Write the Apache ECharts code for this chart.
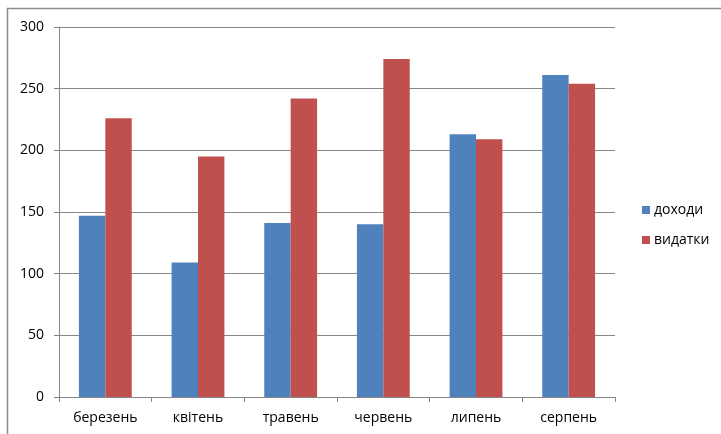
<!DOCTYPE html>
<html>
<head>
<meta charset="utf-8">
<script src="https://cdn.jsdelivr.net/npm/echarts@6/dist/echarts.min.js"></script>
<style>
  html, body { margin: 0; padding: 0; background: #fff; }
  #chart { width: 721px; height: 434px; }
</style>
</head>
<body>
<div id="chart"></div>
<script>
// Місяці та суми доходів і видатків
const months = ['березень', 'квітень', 'травень', 'червень', 'липень', 'серпень'];
const income = [147, 109, 141, 140, 213, 261];
const expenses = [226, 195, 242, 274, 209, 254];
const seriesNames = ['доходи', 'видатки'];
const yTicks = { min: 0, max: 300, interval: 50 };

const font = '"Open Sans", "Noto Sans", sans-serif';
const axisGray = '#868686';

const chart = echarts.init(document.getElementById('chart'), null, { renderer: 'canvas' });
chart.setOption({
  animation: false,
  backgroundColor: '#ffffff',
  textStyle: { fontFamily: font },
  graphic: [{
    type: 'rect',
    shape: { x: 7.5, y: 8.5, width: 800, height: 500 },
    style: { fill: 'none', stroke: '#8c8c8c', lineWidth: 1.5 },
    silent: true
  }],
  grid: { left: 59, right: 106, top: 27, bottom: 37 },
  legend: {
    orient: 'vertical',
    left: 642,
    top: 203,
    padding: 0,
    itemWidth: 8,
    itemHeight: 8,
    itemGap: 16,
    icon: 'rect',
    textStyle: { fontFamily: font, fontSize: 14, color: '#000', padding: [0, 0, 0, -1] },
    data: seriesNames
  },
  xAxis: {
    type: 'category',
    data: months,
    axisLine: { lineStyle: { color: axisGray, width: 1 } },
    axisTick: { show: true, length: 5, lineStyle: { color: axisGray } },
    axisLabel: { color: '#000', fontSize: 14, margin: 14, fontFamily: font }
  },
  yAxis: {
    type: 'value',
    min: yTicks.min,
    max: yTicks.max,
    interval: yTicks.interval,
    axisLine: { show: true, lineStyle: { color: axisGray, width: 1 } },
    axisTick: { show: true, length: 5, lineStyle: { color: axisGray } },
    axisLabel: { color: '#000', fontSize: 14, margin: 15, fontFamily: font },
    splitLine: { lineStyle: { color: axisGray, width: 1 } }
  },
  series: [
    {
      name: seriesNames[0],
      type: 'bar',
      data: income,
      barGap: '0%',
      barCategoryGap: '43%',
      itemStyle: { color: '#4f81bd' }
    },
    {
      name: seriesNames[1],
      type: 'bar',
      data: expenses,
      barGap: '0%',
      barCategoryGap: '43%',
      itemStyle: { color: '#c0504d' }
    }
  ]
});
</script>
</body>
</html>
